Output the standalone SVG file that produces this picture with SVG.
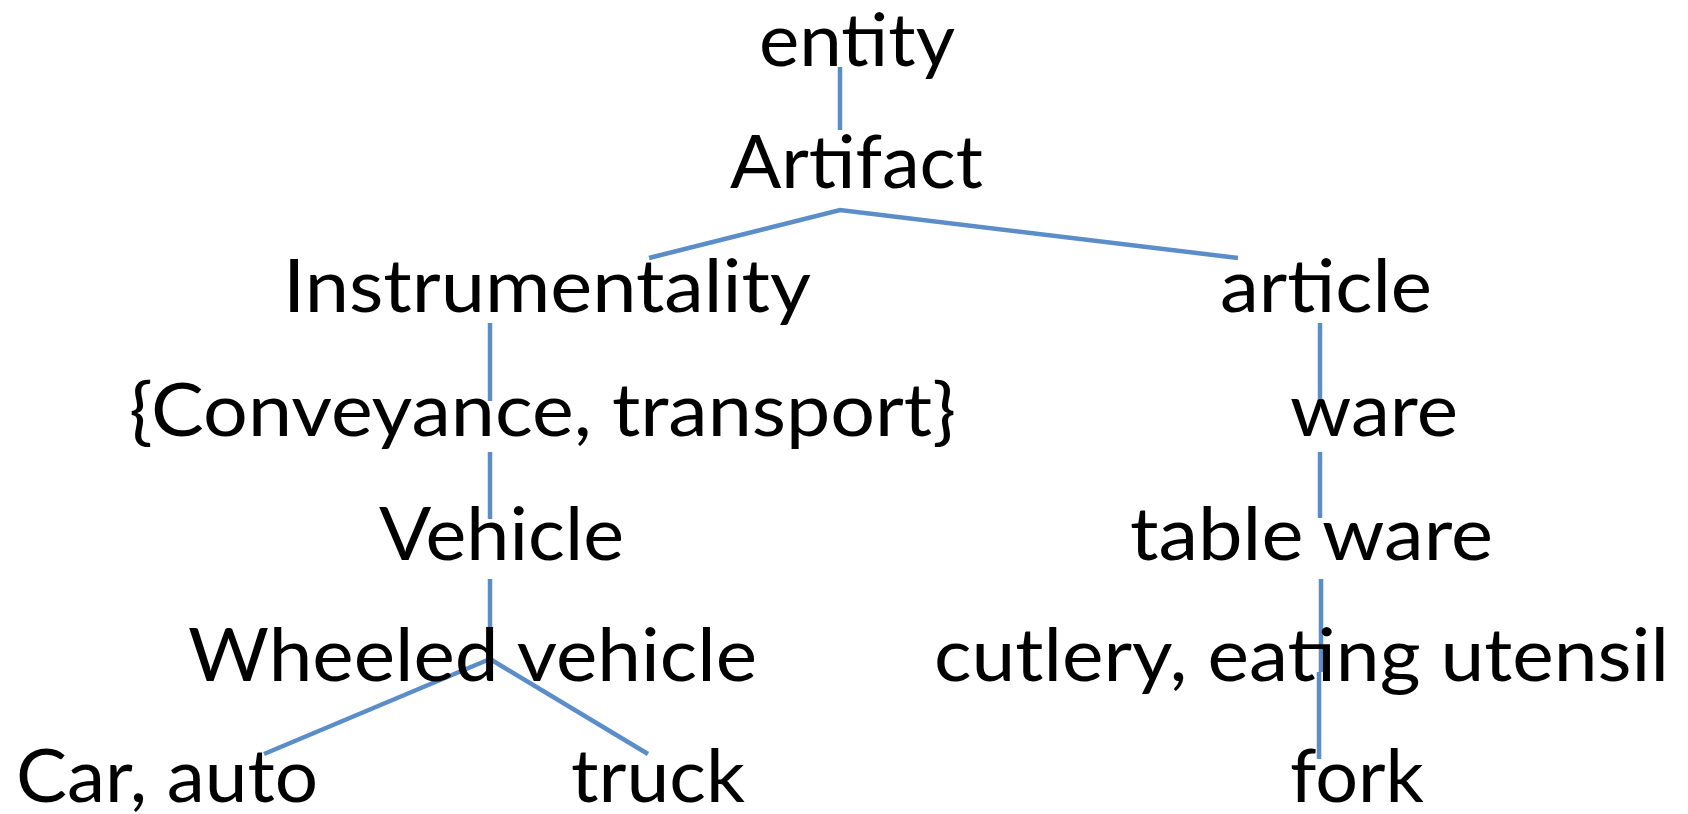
<svg xmlns="http://www.w3.org/2000/svg" width="1688" height="814" viewBox="0 0 1688 814">
<style>
.t{font-family:Lato,"Open Sans","Liberation Sans",sans-serif;font-size:73px;fill:#000}
.c line{stroke:#5B8DC8;stroke-width:4.5;stroke-linecap:butt}
</style>
<rect width="1688" height="814" fill="#fff"/>
<g id="connectors" class="c">
<line x1="840" y1="67" x2="840" y2="130"/>
<polyline points="649,258 840,210 1238,258" fill="none" stroke="#5B8DC8" stroke-width="4.5"/>
<line x1="490" y1="323" x2="490" y2="401"/>
<line x1="490" y1="452" x2="490" y2="519"/>
<line x1="490" y1="579" x2="490" y2="659"/>
<line x1="490" y1="659" x2="264" y2="754"/>
<line x1="490" y1="659" x2="648" y2="754"/>
<line x1="1320" y1="323" x2="1320" y2="401"/>
<line x1="1320" y1="452" x2="1320" y2="518"/>
<line x1="1321" y1="579" x2="1321" y2="672"/>
<line x1="1319" y1="672" x2="1319" y2="759"/>
</g>
<g id="entity"><text class="t" x="759" y="66" textLength="196" lengthAdjust="spacingAndGlyphs">entity</text></g>
<g id="artifact"><text class="t" x="730" y="188" textLength="253" lengthAdjust="spacingAndGlyphs">Artifact</text></g>
<g id="instrumentality"><text class="t" x="283" y="312" textLength="528" lengthAdjust="spacingAndGlyphs">Instrumentality</text></g>
<g id="article"><text class="t" x="1220" y="312" textLength="212" lengthAdjust="spacingAndGlyphs">article</text></g>
<g id="conveyance"><text class="t" x="129" y="436" textLength="827" lengthAdjust="spacingAndGlyphs">{Conveyance, transport}</text></g>
<g id="ware"><text class="t" x="1290" y="436" textLength="168" lengthAdjust="spacingAndGlyphs">ware</text></g>
<g id="vehicle"><text class="t" x="379" y="560" textLength="245" lengthAdjust="spacingAndGlyphs">Vehicle</text></g>
<g id="tableware"><text class="t" x="1130" y="560" textLength="363" lengthAdjust="spacingAndGlyphs">table ware</text></g>
<g id="wheeled"><text class="t" x="188" y="681" textLength="569" lengthAdjust="spacingAndGlyphs">Wheeled vehicle</text></g>
<g id="cutlery"><text class="t" x="934" y="681" textLength="735" lengthAdjust="spacingAndGlyphs">cutlery, eating utensil</text></g>
<g id="car"><text class="t" x="16" y="802" textLength="302" lengthAdjust="spacingAndGlyphs">Car, auto</text></g>
<g id="truck"><text class="t" x="571" y="802" textLength="174" lengthAdjust="spacingAndGlyphs">truck</text></g>
<g id="fork"><text class="t" x="1290" y="802" textLength="134" lengthAdjust="spacingAndGlyphs">fork</text></g>
</svg>
